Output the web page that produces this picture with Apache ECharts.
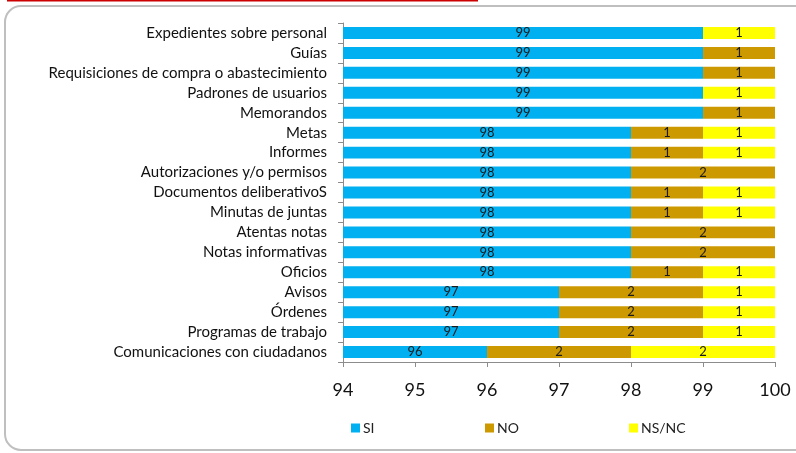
<!DOCTYPE html>
<html>
<head>
<meta charset="utf-8">
<script src="https://cdn.jsdelivr.net/npm/echarts@6/dist/echarts.min.js"></script>
<style>
  html, body { margin: 0; padding: 0; background: #fff; }
  #chart { width: 796px; height: 453px; }
</style>
</head>
<body>
<div id="chart"></div>
<script>
const categories = [
  'Expedientes sobre personal', 'Guías', 'Requisiciones de compra o abastecimiento',
  'Padrones de usuarios', 'Memorandos', 'Metas', 'Informes', 'Autorizaciones y/o permisos',
  'Documentos deliberativoS', 'Minutas de juntas', 'Atentas notas', 'Notas informativas',
  'Oficios', 'Avisos', 'Órdenes', 'Programas de trabajo', 'Comunicaciones con ciudadanos'
];
const siValues = [99, 99, 99, 99, 99, 98, 98, 98, 98, 98, 98, 98, 98, 97, 97, 97, 96];
const noValues = ['-', 1, 1, '-', 1, 1, 1, 2, 1, 1, 2, 2, 1, 2, 2, 2, 2];
const nsncValues = [1, '-', '-', 1, '-', 1, 1, '-', 1, 1, '-', '-', 1, 1, 1, 1, 2];
const xTicks = [94, 95, 96, 97, 98, 99, 100];

const font = 'Lato, sans-serif';
const chart = echarts.init(document.getElementById('chart'));

const barLabel = {
  show: true,
  position: 'inside',
  color: '#1a1a1a',
  fontSize: 13,
  fontFamily: font
};

const legendBase = (name, left) => ({
  data: [name],
  left: left,
  top: 416,
  itemWidth: 9,
  itemHeight: 9,
  icon: 'rect',
  itemGap: 0,
  textStyle: { fontSize: 14, fontFamily: font, color: '#222', padding: [0, 0, 0, -2] }
});

chart.setOption({
  animation: false,
  graphic: [
    { type: 'line', shape: { x1: 7, y1: 0.5, x2: 478, y2: 0.5 }, style: { stroke: '#cc0000', lineWidth: 2 } },
    { type: 'rect', shape: { x: 5, y: 6, width: 900, height: 444, r: 16 }, style: { fill: 'none', stroke: '#bfbfbf', lineWidth: 2 } }
  ],
  grid: { left: 343, right: 21, top: 23, bottom: 91 },
  legend: [
    legendBase('SI', 346),
    legendBase('NO', 480),
    legendBase('NS/NC', 624)
  ],
  xAxis: {
    type: 'value',
    min: xTicks[0],
    max: xTicks[xTicks.length - 1],
    interval: 1,
    splitLine: { show: false },
    axisLine: { show: true, lineStyle: { color: '#8c8c8c' } },
    axisTick: { show: true, length: 5, lineStyle: { color: '#8c8c8c' } },
    axisLabel: { fontSize: 18, fontFamily: font, color: '#111', margin: 19 }
  },
  yAxis: {
    type: 'category',
    inverse: true,
    data: categories,
    axisLine: { show: true, lineStyle: { color: '#8c8c8c' } },
    axisTick: { show: true, length: 5, lineStyle: { color: '#8c8c8c' } },
    axisLabel: { fontSize: 15, fontFamily: font, color: '#111', margin: 16 }
  },
  series: [
    { name: 'SI', type: 'bar', stack: 'total', data: siValues, barWidth: '60%', itemStyle: { color: '#00b0f0' }, label: barLabel },
    { name: 'NO', type: 'bar', stack: 'total', data: noValues, itemStyle: { color: '#cc9900' }, label: barLabel },
    { name: 'NS/NC', type: 'bar', stack: 'total', data: nsncValues, itemStyle: { color: '#ffff00' }, label: barLabel }
  ]
});
</script>
</body>
</html>
